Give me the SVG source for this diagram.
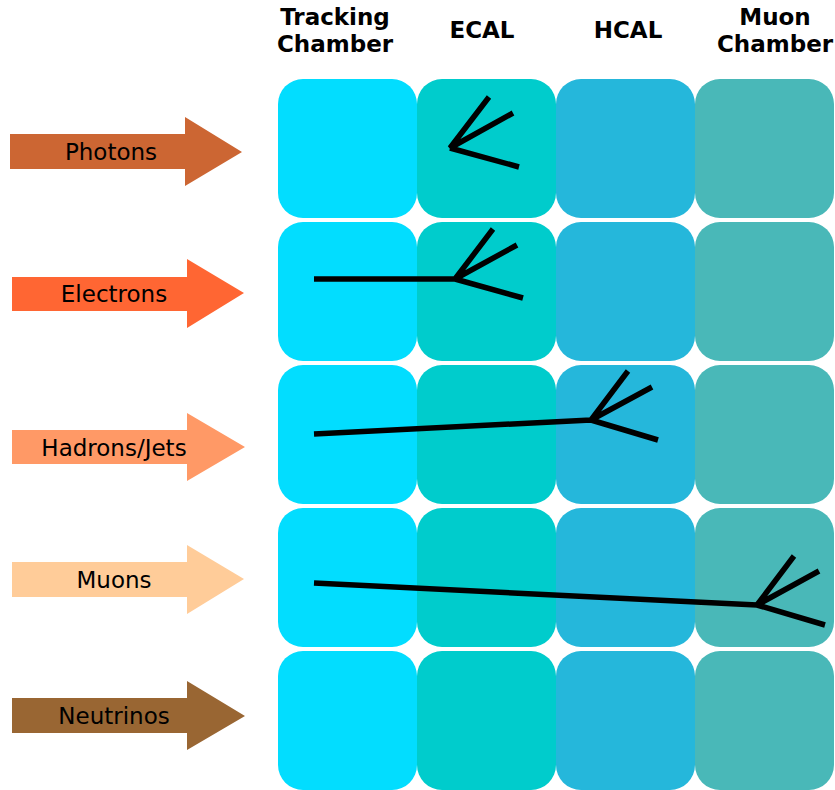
<svg xmlns="http://www.w3.org/2000/svg" width="835" height="790" viewBox="0 0 835 790">
<style>
.hdr{font-family:"DejaVu Sans",sans-serif;font-weight:bold;font-size:23px;text-anchor:middle;fill:#000}
.lbl{font-family:"DejaVu Sans",sans-serif;font-size:23px;text-anchor:middle;fill:#000}
.tk{fill:#02ddff}.ec{fill:#00cccc}.hc{fill:#25b7db}.mu{fill:#49b8b8}
.trk{stroke:#000;stroke-width:5.5;fill:none;stroke-linecap:butt;stroke-linejoin:miter}
</style>
<rect width="835" height="790" fill="#fff"/>
<g id="headers">
<text class="hdr" x="335" y="25">Tracking</text>
<text class="hdr" x="335" y="52">Chamber</text>
<text class="hdr" x="482" y="38">ECAL</text>
<text class="hdr" x="628" y="38">HCAL</text>
<text class="hdr" x="775" y="25">Muon</text>
<text class="hdr" x="775" y="52">Chamber</text>
</g>
<g id="grid">
<g id="row-photons">
<rect class="tk" x="278" y="79" width="139" height="139" rx="25"/>
<rect class="ec" x="417" y="79" width="139" height="139" rx="25"/>
<rect class="hc" x="556" y="79" width="139" height="139" rx="25"/>
<rect class="mu" x="695" y="79" width="139" height="139" rx="25"/>
</g>
<g id="row-electrons">
<rect class="tk" x="278" y="222" width="139" height="139" rx="25"/>
<rect class="ec" x="417" y="222" width="139" height="139" rx="25"/>
<rect class="hc" x="556" y="222" width="139" height="139" rx="25"/>
<rect class="mu" x="695" y="222" width="139" height="139" rx="25"/>
</g>
<g id="row-hadrons">
<rect class="tk" x="278" y="365" width="139" height="139" rx="25"/>
<rect class="ec" x="417" y="365" width="139" height="139" rx="25"/>
<rect class="hc" x="556" y="365" width="139" height="139" rx="25"/>
<rect class="mu" x="695" y="365" width="139" height="139" rx="25"/>
</g>
<g id="row-muons">
<rect class="tk" x="278" y="508" width="139" height="139" rx="25"/>
<rect class="ec" x="417" y="508" width="139" height="139" rx="25"/>
<rect class="hc" x="556" y="508" width="139" height="139" rx="25"/>
<rect class="mu" x="695" y="508" width="139" height="139" rx="25"/>
</g>
<g id="row-neutrinos">
<rect class="tk" x="278" y="651" width="139" height="139" rx="25"/>
<rect class="ec" x="417" y="651" width="139" height="139" rx="25"/>
<rect class="hc" x="556" y="651" width="139" height="139" rx="25"/>
<rect class="mu" x="695" y="651" width="139" height="139" rx="25"/>
</g>
</g>
<g id="arrow-photons">
<polygon fill="#cc6633" points="10,134 185,134 185,117 242,152 185,186 185,169 10,169"/>
<text class="lbl" x="111" y="160">Photons</text>
</g>
<g id="arrow-electrons">
<polygon fill="#ff6633" points="12,277 187,277 187,259 244,293 187,328 187,311 12,311"/>
<text class="lbl" x="114" y="302">Electrons</text>
</g>
<g id="arrow-hadrons">
<polygon fill="#ff9966" points="12,430 187,430 187,413 245,447 187,481 187,464 12,464"/>
<text class="lbl" x="114" y="456">Hadrons/Jets</text>
</g>
<g id="arrow-muons">
<polygon fill="#ffcc99" points="12,562 187,562 187,545 244,579 187,614 187,597 12,597"/>
<text class="lbl" x="114" y="588">Muons</text>
</g>
<g id="arrow-neutrinos">
<polygon fill="#996633" points="12,698 187,698 187,681 245,716 187,750 187,733 12,733"/>
<text class="lbl" x="114" y="724">Neutrinos</text>
</g>
<g id="tracks">
<path class="trk" d="M489,97 L450,148 L513,113 M450,148 L519,167"/>
<path class="trk" d="M314,279 L455,279 M493,229 L455,279 L517,245 M455,279 L523,298"/>
<path class="trk" d="M314,434 L591,420 M628,371 L591,420 L652,387 M591,420 L658,440"/>
<path class="trk" d="M314,583 L757,605 M794,556 L757,605 L819,571 M757,605 L825,625"/>
</g>
</svg>
